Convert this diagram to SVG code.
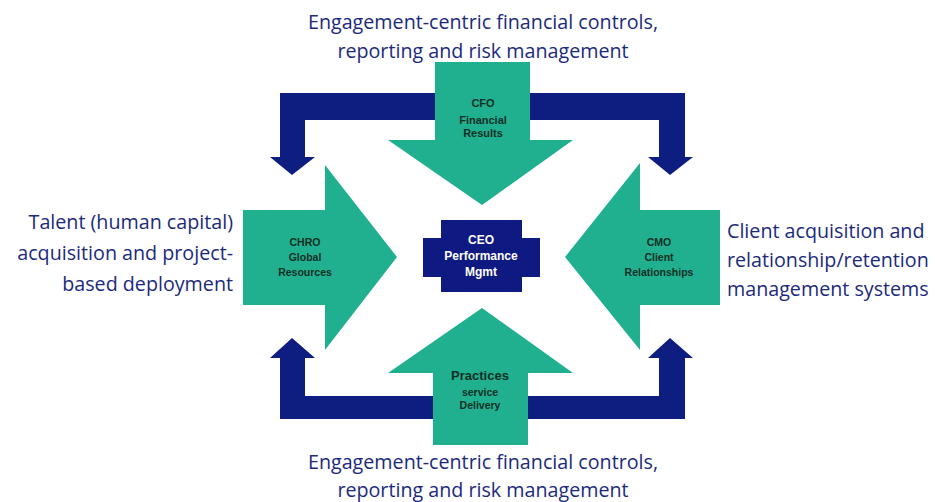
<svg xmlns="http://www.w3.org/2000/svg" width="935" height="502" viewBox="0 0 935 502">
<style>
.cap{font-family:"Open Sans","Noto Sans",sans-serif;font-size:19.7px;fill:#1b2a7c}
.g{fill:#21b08f}
.nv{fill:#0e1d80}
.lbl{font-family:"Liberation Sans",Arial,sans-serif;font-weight:bold;font-size:10.5px;fill:#0f2e26;text-anchor:middle}
.ceo{font-family:"Liberation Sans",Arial,sans-serif;font-weight:bold;font-size:12px;fill:#ffffff;text-anchor:middle}
</style>
<rect width="935" height="502" fill="#ffffff"/>
<g id="connectors">
<polygon class="nv" points="280,93 685,93 685,157 693,157 670,175 648,157 659,157 659,120 305,120 305,157 315,157 292,175 270,157 280,157"/>
<polygon class="nv" points="280,419 685,419 685,358 693,358 670,338 648,358 659,358 659,396 305,396 305,358 315,358 292,338 270,358 280,358"/>
</g>
<g id="cfo">
<polygon class="g" points="435,62 530,62 530,140 573,140 482,205 388,140 435,140"/>
<text class="lbl" x="483" y="107" style="font-size:11px">CFO</text>
<text class="lbl" x="483" y="124" style="font-size:11px">Financial</text>
<text class="lbl" x="483" y="137" style="font-size:11px">Results</text>
</g>
<g id="practices">
<polygon class="g" points="433,445 528,445 528,373 573,373 482,308 388,373 433,373"/>
<text class="lbl" x="480" y="380" style="font-size:13px">Practices</text>
<text class="lbl" x="480" y="396">service</text>
<text class="lbl" x="480" y="409">Delivery</text>
</g>
<g id="chro">
<polygon class="g" points="243,210 325,210 325,165 397,257 325,350 325,305 243,305"/>
<text class="lbl" x="305" y="246">CHRO</text>
<text class="lbl" x="305" y="261">Global</text>
<text class="lbl" x="305" y="276">Resources</text>
</g>
<g id="cmo">
<polygon class="g" points="720,210 640,210 640,163 565,257 640,350 640,305 720,305"/>
<text class="lbl" x="659" y="246">CMO</text>
<text class="lbl" x="659" y="261">Client</text>
<text class="lbl" x="659" y="276">Relationships</text>
</g>
<g id="ceo">
<polygon fill="#0e1a82" points="441,220 522,220 522,238 540,238 540,277 522,277 522,292 441,292 441,277 423,277 423,238 441,238"/>
<text class="ceo" x="481" y="244">CEO</text>
<text class="ceo" x="481" y="260">Performance</text>
<text class="ceo" x="481" y="276">Mgmt</text>
</g>
<g id="captions">
<text class="cap" x="483" y="29" text-anchor="middle">Engagement-centric financial controls,</text>
<text class="cap" x="483" y="58" text-anchor="middle">reporting and risk management</text>
<text class="cap" x="483" y="469" text-anchor="middle">Engagement-centric financial controls,</text>
<text class="cap" x="483" y="497" text-anchor="middle">reporting and risk management</text>
<text class="cap" x="233" y="229" text-anchor="end">Talent (human capital)</text>
<text class="cap" x="233" y="260" text-anchor="end">acquisition and project-</text>
<text class="cap" x="233" y="291" text-anchor="end">based deployment</text>
<text class="cap" x="727" y="238">Client acquisition and</text>
<text class="cap" x="727" y="267">relationship/retention</text>
<text class="cap" x="727" y="296">management systems</text>
</g>
</svg>
